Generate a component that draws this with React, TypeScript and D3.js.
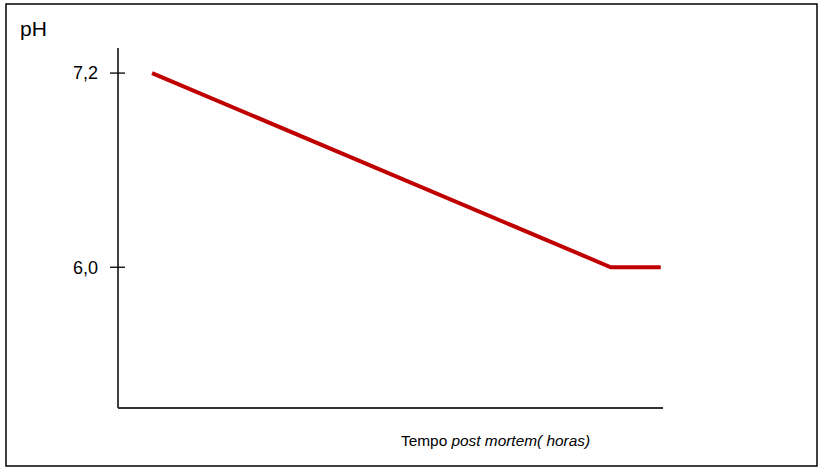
import React, { useEffect, useRef } from 'react';
import * as d3 from 'd3';

// post mortem time (hours) and pH readings
const hours = [1.5, 21.7, 23.9];
const phValues = [7.2, 6.0, 6.0];
const yTicks = [6.0, 7.2];
const yTickLabels = ['6,0', '7,2'];

const W = 818;
const H = 474;

const App: React.FC = () => {
  const svgRef = useRef<SVGSVGElement>(null);

  useEffect(() => {
    document.body.style.margin = '0';
    if (!svgRef.current) return;
    const svg = d3.select(svgRef.current);
    svg.selectAll('*').remove();

    const left = 118;
    const right = 663;
    const top = 48;
    const bottom = 408;

    const x = d3.scaleLinear().domain([0, 24]).range([left, right]);
    const y = d3.scaleLinear().domain([5.13, 7.355]).range([bottom, top]);

    // frame
    svg.append('rect')
      .attr('x', 6).attr('y', 4)
      .attr('width', 811).attr('height', 462)
      .attr('fill', 'none')
      .attr('stroke', '#000')
      .attr('stroke-width', 1.5);

    svg.append('text')
      .attr('x', 20).attr('y', 36)
      .attr('font-family', 'Liberation Sans, Arial, sans-serif')
      .attr('font-size', 21)
      .text('pH');

    // axes
    svg.append('line')
      .attr('x1', left).attr('x2', left)
      .attr('y1', top).attr('y2', bottom)
      .attr('stroke', '#000').attr('stroke-width', 1.5);
    svg.append('line')
      .attr('x1', left).attr('x2', right)
      .attr('y1', bottom).attr('y2', bottom)
      .attr('stroke', '#333').attr('stroke-width', 2);

    const ticks = svg.append('g');
    yTicks.forEach((t, i) => {
      ticks.append('line')
        .attr('x1', left - 8).attr('x2', left + 7)
        .attr('y1', y(t)).attr('y2', y(t))
        .attr('stroke', '#000').attr('stroke-width', 1.3);
      ticks.append('text')
        .attr('x', left - 20).attr('y', y(t))
        .attr('dy', '0.35em')
        .attr('text-anchor', 'end')
        .attr('font-family', 'Liberation Sans, Arial, sans-serif')
        .attr('font-size', 18)
        .text(yTickLabels[i]);
    });

    // curve
    const line = d3.line<number>()
      .x((_, i) => x(hours[i]))
      .y(d => y(d));
    svg.append('path')
      .datum(phValues)
      .attr('d', line)
      .attr('fill', 'none')
      .attr('stroke', '#c00000')
      .attr('stroke-width', 4);

    const label = svg.append('text')
      .attr('x', 401).attr('y', 446)
      .attr('font-family', 'Liberation Sans, Arial, sans-serif')
      .attr('font-size', 15.4);
    label.append('tspan').text('Tempo ');
    label.append('tspan').attr('font-style', 'italic').text('post mortem( horas)');
  }, []);

  return <svg ref={svgRef} width={W} height={H} style={{ display: 'block', background: '#fff' }} />;
};

export default App;
